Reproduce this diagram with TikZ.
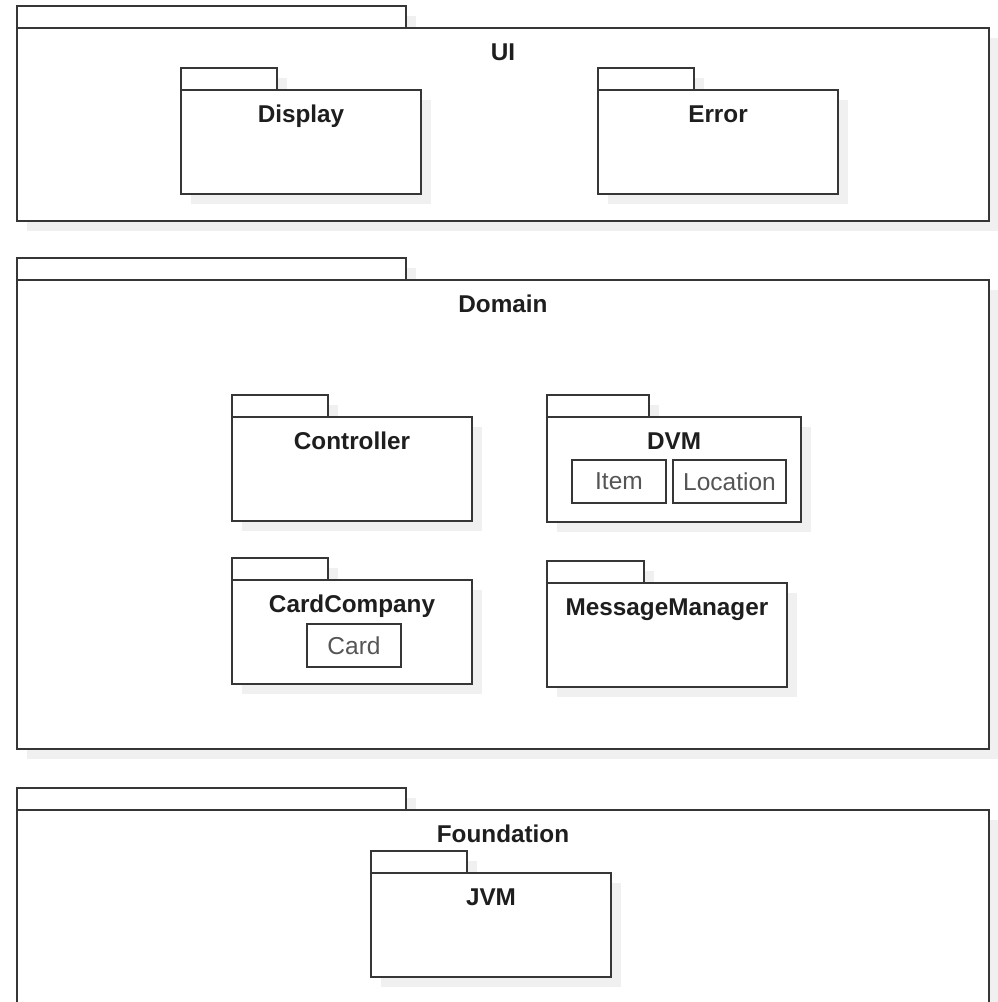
\documentclass[tikz,border=0pt]{standalone}
\usepackage{fontspec}
\setmainfont{Liberation Sans}
\usetikzlibrary{calc,shadows}
\definecolor{linec}{HTML}{363636}
\definecolor{shadowc}{HTML}{F0F0F0}
\definecolor{titlec}{HTML}{1E1E1E}
\definecolor{innerc}{HTML}{555555}
\tikzset{
  pshadow/.style={general shadow={fill=shadowc, shadow xshift=10pt, shadow yshift=-10pt}},
  pkgtab/.style={draw=linec, fill=white, line width=1.7pt, pshadow, inner sep=0pt, outer sep=0pt,
    anchor=south west, minimum height=22pt},
  pkgbody/.style={draw=linec, fill=white, line width=1.7pt, pshadow, inner sep=0pt, outer sep=0pt,
    anchor=north west},
  pkglabel/.style={anchor=base, inner sep=0pt, font=\bfseries\fontsize{24.3}{27}\selectfont, text=titlec},
  innerbox/.style={draw=linec, fill=white, line width=1.5pt, inner sep=0pt, outer sep=0pt,
    anchor=north west, font=\fontsize{24.5}{27}\selectfont, text=innerc},
}
% name, x, y (top of body), width, height, tab width, label
\newcommand\umlpkg[7]{%
  \node[pkgtab, minimum width=#6pt] (#1-tab) at (#2,#3) {};
  \node[pkgbody, minimum width=#4pt, minimum height=#5pt] (#1) at (#2,#3) {};
  \node[pkglabel] (#1-label) at ($(#1.north)+(0,32)$) {#7};
}
\begin{document}
\begin{tikzpicture}[x=1pt,y=-1pt]
\useasboundingbox[fill=white] (0,0) rectangle (997,1002);
% UI
\umlpkg{ui}{17}{28}{972}{193}{389}{UI}
\umlpkg{display}{181}{90}{240}{104}{96}{Display}
\umlpkg{error}{598}{90}{240}{104}{96}{Error}
% Domain
\umlpkg{domain}{17}{280}{972}{469}{389}{Domain}
\umlpkg{controller}{232}{417}{240}{104}{96}{Controller}
\umlpkg{dvm}{547}{417}{254}{105}{102}{DVM}
\node[innerbox, minimum width=94pt, minimum height=43pt] (item) at (572,460) {Item};
\node[innerbox, minimum width=113pt, minimum height=43pt] (location) at (673,460) {Location};
\umlpkg{cardcompany}{232}{580}{240}{104}{96}{CardCompany}
\node[innerbox, minimum width=94pt, minimum height=43pt] (card) at (307,624) {Card};
\umlpkg{messagemanager}{547}{583}{240}{104}{97}{MessageManager}
% Foundation
\umlpkg{foundation}{17}{810}{972}{196}{389}{Foundation}
\umlpkg{jvm}{371}{873}{240}{104}{96}{JVM}
\end{tikzpicture}
\end{document}
